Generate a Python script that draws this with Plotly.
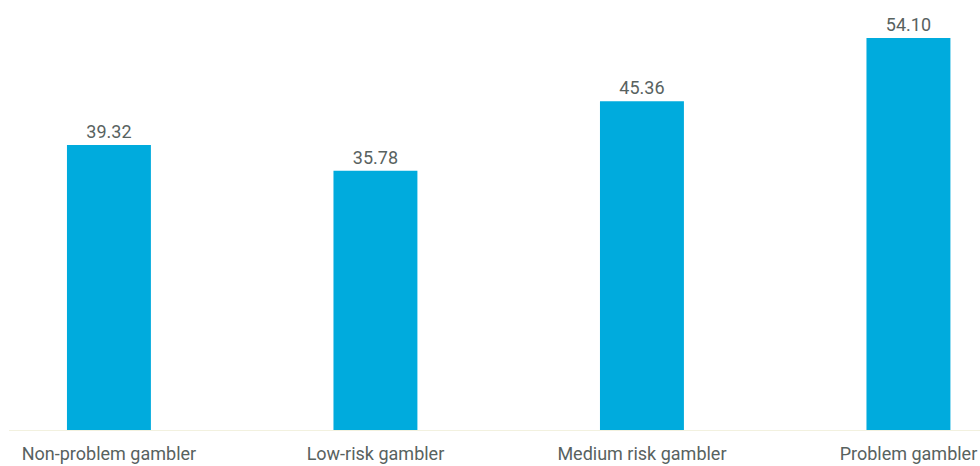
import plotly.graph_objects as go

categories = ["Non-problem gambler", "Low-risk gambler", "Medium risk gambler", "Problem gambler"]
values = [39.32, 35.78, 45.36, 54.10]
value_labels = ["39.32", "35.78", "45.36", "54.10"]

text_color = "#58625f"
bar_color = "#00abdd"

fig = go.Figure(
    go.Bar(
        x=list(range(len(categories))),
        y=values,
        width=0.315,
        marker=dict(color=bar_color, line=dict(width=0)),
        text=value_labels,
        textposition="outside",
        cliponaxis=False,
        textfont=dict(family="Roboto", size=18, color=text_color),
    )
)

fig.update_layout(
    width=980,
    height=466,
    margin=dict(l=9, r=0, t=0, b=36),
    paper_bgcolor="white",
    plot_bgcolor="white",
    showlegend=False,
    font=dict(family="Roboto", size=18, color=text_color),
    xaxis=dict(
        tickmode="array",
        tickvals=list(range(len(categories))),
        ticktext=categories,
        range=[-0.375, 3.2685],
        showgrid=False,
        zeroline=False,
        showline=True,
        linecolor="#f2f1df",
        linewidth=1,
        ticks="",
        ticklabelstandoff=7,
        tickfont=dict(family="Roboto", size=18, color=text_color),
        fixedrange=True,
    ),
    yaxis=dict(
        range=[0, 59.34],
        visible=False,
        showgrid=False,
        zeroline=False,
        fixedrange=True,
    ),
)

fig.write_html("out.html")
